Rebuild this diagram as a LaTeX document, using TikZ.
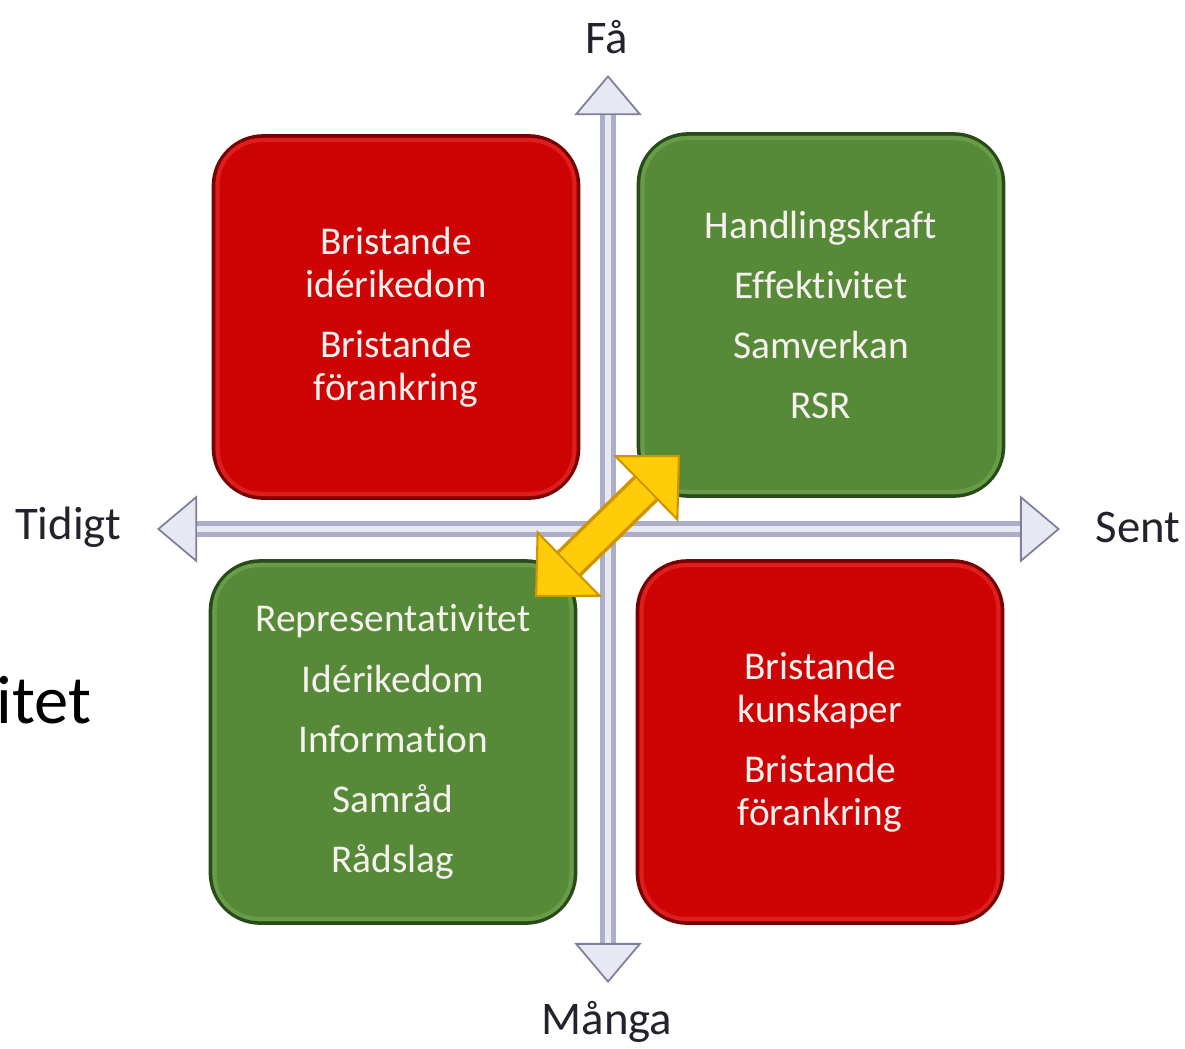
\documentclass[tikz,border=0pt]{standalone}
\usepackage{fontspec}
\setmainfont{Carlito}[Ligatures={NoCommon}]
\usetikzlibrary{arrows.meta}
\definecolor{boxred}{RGB}{206,4,4}
\definecolor{boxredd}{RGB}{120,0,0}
\definecolor{boxredl}{RGB}{222,30,30}
\definecolor{boxgreen}{RGB}{86,138,56}
\definecolor{boxgreend}{RGB}{40,75,25}
\definecolor{boxgreenl}{RGB}{104,156,72}
\definecolor{axisfill}{RGB}{172,174,200}
\definecolor{axislight}{RGB}{232,232,243}
\definecolor{axisdark}{RGB}{125,127,155}
\definecolor{gold}{RGB}{255,204,10}
\definecolor{goldd}{RGB}{208,148,0}
\definecolor{labeltext}{RGB}{35,35,45}
\definecolor{boxtext}{RGB}{246,240,238}
\begin{document}
\begin{tikzpicture}[x=0.01cm,y=-0.01cm,
  quad/.style={rounded corners=5mm, inner sep=0pt, line width=0.35mm,
    minimum width=36.5mm, minimum height=36.2mm, align=center, text=boxtext,
    font=\fontsize{11.2}{12.2}\selectfont},
  redq/.style={quad, fill=boxred, draw=boxredd},
  greenq/.style={quad, fill=boxgreen, draw=boxgreend},
  axlabel/.style={text=labeltext, font=\fontsize{13.3}{15}\selectfont, inner sep=0pt},
  axisline/.style={line width=1.6mm, draw=axisfill, {Triangle[length=4mm,width=6.7mm,line width=0.5pt,fill=axislight,color=axisdark]}-{Triangle[length=4mm,width=6.7mm,line width=0.5pt,fill=axislight,color=axisdark]}},
  axiscore/.style={line width=0.55mm, draw=axislight, shorten <=4mm, shorten >=4mm},
  goldline/.style={line width=3.5mm, draw=goldd, {Triangle[length=4.8mm,width=9.3mm,line width=0.6pt,fill=gold,color=goldd]}-{Triangle[length=4.8mm,width=9.3mm,line width=0.6pt,fill=gold,color=goldd]}},
  goldcore/.style={line width=2.8mm, draw=gold, shorten <=4.8mm, shorten >=4.8mm}
]
\useasboundingbox (0,0) rectangle (1185,1048);

% quadrants
\node[redq] (tl) at (396,317) {Bristande\\idérikedom\\[4.9pt]Bristande\\förankring};
\node[greenq] (tr) at (821,315) {Handlingskraft\\[4.9pt]Effektivitet\\[4.9pt]Samverkan\\[4.9pt]RSR};
\node[greenq] (bl) at (393,742) {Representativitet\\[4.9pt]Idérikedom\\[4.9pt]Information\\[4.9pt]Samråd\\[4.9pt]Rådslag};
\node[redq] (br) at (820,742) {Bristande\\kunskaper\\[4.9pt]Bristande\\förankring};

% inner highlights
\foreach \n/\c in {tl/boxredl,br/boxredl,tr/boxgreenl,bl/boxgreenl}{
  \draw[\c, line width=0.4mm, rounded corners=4.4mm]
    ([xshift=0.6mm,yshift=-0.6mm]\n.north west) rectangle ([xshift=-0.6mm,yshift=0.6mm]\n.south east);
}

% axis labels
\node[axlabel] (fa) at (607,37) {Få};
\node[axlabel] (manga) at (607,1022) {Många};
\node[axlabel] (tidigt) at (68,527) {Tidigt};
\node[axlabel] (sent) at (1138,527) {Sent};
\node[anchor=base east, inner sep=0pt, text=black, font=\fontsize{19.5}{22}\selectfont] (itet) at (92,723) {itet};

% axes
\coordinate (ytop) at (608,75);
\coordinate (ybot) at (608,983);
\coordinate (xl) at (157,529);
\coordinate (xr) at (1060,529);
\draw[axisline] (xl) -- (xr);
\draw[axiscore] (xl) -- (xr);
\draw[axisline] (ybot) -- (ytop);
\draw[axiscore] (ybot) -- (ytop);

% yellow double arrow
\coordinate (ya) at (535,597);
\coordinate (yb) at (680,455);
\draw[goldline] (ya) -- (yb);
\draw[goldcore] (ya) -- (yb);
\end{tikzpicture}
\end{document}
